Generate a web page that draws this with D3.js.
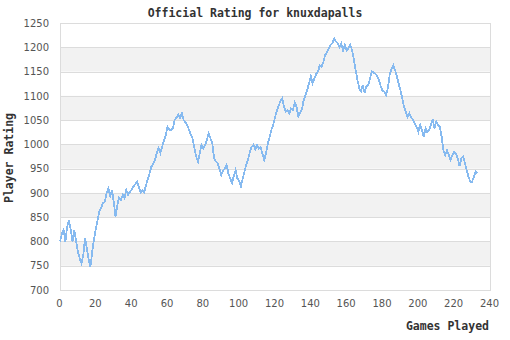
<!DOCTYPE html>
<html>
<head>
<meta charset="utf-8">
<script src="https://cdn.jsdelivr.net/npm/d3@7"></script>
<style>
  html, body { margin: 0; padding: 0; background: #fff; }
  svg { display: block; }
</style>
</head>
<body>
<svg id="chart" width="510" height="340"></svg>
<script>
const title = "Official Rating for knuxdapalls";
const xLabel = "Games Played";
const yLabel = "Player Rating";
const xTicks = [0, 20, 40, 60, 80, 100, 120, 140, 160, 180, 200, 220, 240];
const yTicks = [700, 750, 800, 850, 900, 950, 1000, 1050, 1100, 1150, 1200, 1250];
const ratings = [
  800, 815, 824, 800, 830, 844, 824, 800, 824, 800,
  779, 765, 755, 772, 807, 786, 762, 748, 779, 805,
  827, 844, 863, 870, 879, 882, 899, 909, 894, 906,
  882, 851, 875, 890, 885, 896, 889, 906, 896, 902,
  906, 913, 918, 923, 913, 901, 906, 901, 916, 928,
  940, 954, 960, 968, 982, 992, 982, 995, 1008, 1019,
  1036, 1030, 1030, 1033, 1050, 1055, 1061, 1054, 1064, 1050,
  1045, 1040, 1030, 1020, 1012, 992, 975, 964, 982, 999,
  992, 999, 1010, 1023, 1012, 1002, 971, 965, 961, 950,
  937, 945, 951, 958, 940, 930, 920, 935, 947, 930,
  925, 914, 930, 945, 958, 970, 985, 995, 999, 990,
  999, 992, 995, 980, 968, 982, 1002, 1015, 1030, 1040,
  1056, 1068, 1080, 1088, 1095, 1078, 1067, 1071, 1064, 1074,
  1071, 1086, 1078, 1058, 1065, 1072, 1091, 1102, 1112, 1126,
  1140, 1126, 1136, 1145, 1150, 1163, 1160, 1170, 1184, 1190,
  1198, 1205, 1208, 1218, 1212, 1208, 1201, 1208, 1194, 1205,
  1193, 1198, 1205, 1194, 1175, 1153, 1133, 1116, 1109, 1122,
  1106, 1119, 1122, 1135, 1150, 1148, 1146, 1140, 1133, 1120,
  1110, 1109, 1102, 1116, 1143, 1155, 1163, 1153, 1140, 1125,
  1112, 1095, 1078, 1067, 1056, 1064, 1056, 1050, 1043, 1036,
  1026, 1040, 1030, 1016, 1033, 1025, 1030, 1040, 1052, 1033,
  1047, 1040, 1036, 1016, 988, 978, 988, 978, 968, 978,
  985, 980, 971, 955, 971, 975, 961, 947, 933, 923,
  923, 933, 944, 940
];
const games = ratings.map((_, i) => i);

const svg = d3.select("#chart");
const mLeft = 60, mRight = 490, mTop = 23, mBottom = 290;

const x = d3.scaleLinear().domain([0, 240]).range([mLeft, mRight]);
const y = d3.scaleLinear().domain([700, 1250]).range([mBottom, mTop]);

// Alternating bands
const bands = d3.pairs(yTicks).filter((_, i) => i % 2 === 1);
svg.append("g").selectAll("rect").data(bands).join("rect")
  .attr("x", mLeft).attr("width", mRight - mLeft)
  .attr("y", d => y(d[1])).attr("height", d => y(d[0]) - y(d[1]))
  .attr("fill", "#f2f2f2");

// Grid lines
svg.append("g").selectAll("line").data(yTicks).join("line")
  .attr("x1", mLeft).attr("x2", mRight)
  .attr("y1", d => Math.round(y(d)) + 0.5).attr("y2", d => Math.round(y(d)) + 0.5)
  .attr("stroke", "#dcdcdc").attr("stroke-width", 1);

// Frame
svg.append("rect")
  .attr("x", mLeft + 0.5).attr("y", mTop + 0.5)
  .attr("width", mRight - mLeft).attr("height", mBottom - mTop)
  .attr("fill", "none").attr("stroke", "#dcdcdc").attr("stroke-width", 1);

// Y axis
const yAxis = d3.axisLeft(y).tickValues(yTicks).tickSize(0).tickPadding(11).tickFormat(d3.format("d"));
const gy = svg.append("g").attr("transform", `translate(${mLeft},0)`).call(yAxis);
gy.select(".domain").remove();
gy.selectAll("text").attr("font-family", "DejaVu Sans, sans-serif").attr("font-size", 10).attr("fill", "#555");

// X axis
const xAxis = d3.axisBottom(x).tickValues(xTicks).tickSize(0).tickPadding(10).tickFormat(d3.format("d"));
const gx = svg.append("g").attr("transform", `translate(-1,${mBottom})`).call(xAxis);
gx.select(".domain").remove();
gx.selectAll("text").attr("font-family", "DejaVu Sans, sans-serif").attr("font-size", 10).attr("fill", "#555");

// Line
const line = d3.line().x((d, i) => x(games[i])).y(d => y(d));
svg.append("path").datum(ratings)
  .attr("d", line)
  .attr("fill", "none")
  .attr("stroke", "#86baf0")
  .attr("stroke-width", 1.8)
  .attr("stroke-linejoin", "miter")
  .attr("shape-rendering", "crispEdges");

// Title
svg.append("text").attr("x", 255).attr("y", 17).attr("text-anchor", "middle")
  .attr("font-family", "DejaVu Sans Mono, monospace").attr("font-weight", "bold")
  .attr("font-size", 11.5).attr("fill", "#333").text(title);

svg.append("text").attr("x", 489).attr("y", 330).attr("text-anchor", "end")
  .attr("font-family", "DejaVu Sans Mono, monospace").attr("font-weight", "bold")
  .attr("font-size", 11.5).attr("fill", "#333").text(xLabel);

svg.append("text").attr("transform", "translate(13,158) rotate(-90)").attr("text-anchor", "middle")
  .attr("font-family", "DejaVu Sans Mono, monospace").attr("font-weight", "bold")
  .attr("font-size", 11.5).attr("fill", "#333").text(yLabel);
</script>
</body>
</html>
